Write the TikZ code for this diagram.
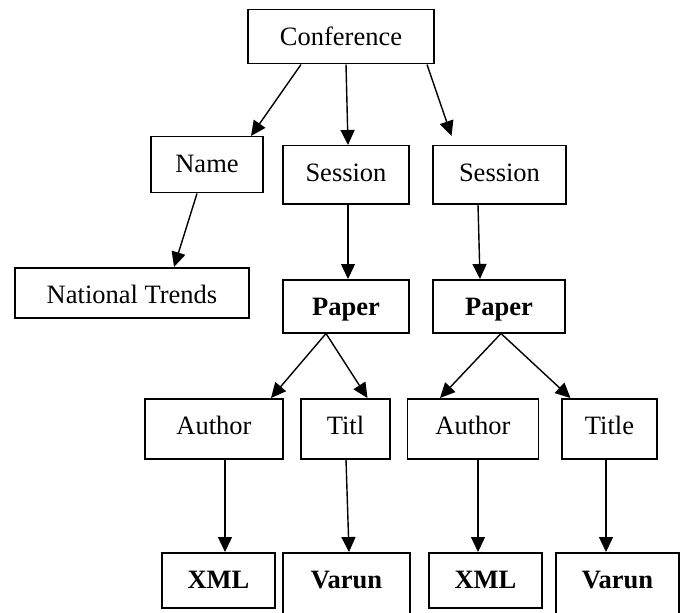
\documentclass[tikz,border=0pt]{standalone}
\usepackage{fontspec}
\setmainfont{Liberation Serif}
\usetikzlibrary{arrows.meta}
\tikzset{
    every node/.style={rectangle, draw, line width=1.5pt, anchor=north,
    	inner sep=0pt, text height=36pt, font=\fontsize{26.5}{30}\selectfont}
}
\tikzset{
    every edge/.append style={line width=1.4pt, -{Triangle[length=15pt,width=14pt]}}
}

\begin{document}
\begin{tikzpicture}[x=1pt,y=-1pt]
	\useasboundingbox (0,0) rectangle (684,612);
	\node (conf) [minimum width=186pt, text depth=18pt] at (341,9) {Conference};
	\node (name) [minimum width=112pt, text depth=20pt] at (207,136) {Name};
	\node (ses1) [minimum width=126pt, text depth=22pt] at (346,145) {Session};
	\node (ses2) [minimum width=133pt, text depth=22pt] at (499.5,145) {Session};
	\node (nt) [minimum width=234pt, text depth=14pt] at (132,267) {National Trends};
	\node (pap1) [minimum width=126pt, text depth=17pt] at (346,279) {\textbf{Paper}};
	\node (pap2) [minimum width=132pt, text depth=17pt] at (499,279) {\textbf{Paper}};
	\node (auth1) [minimum width=138pt, text depth=24pt] at (214,398) {Author};
	\node (titl1) [minimum width=89pt, text depth=24pt] at (345.5,398) {Titl};
	\node (auth2) [minimum width=131pt, text depth=24pt] at (473,398) {Author};
	\node (titl2) [minimum width=95pt, text depth=24pt] at (609.5,398) {Title};
	\node (xml1) [minimum width=113pt, text depth=19pt] at (218.5,552) {\textbf{XML}};
	\node (var1) [minimum width=127pt, text depth=70pt] at (346.5,552) {\textbf{Varun}};
	\node (xml2) [minimum width=113pt, text depth=19pt] at (485.5,552) {\textbf{XML}};
	\node (var2) [minimum width=123pt, text depth=70pt] at (617.5,552) {\textbf{Varun}};

	\draw ([xshift=-40pt]conf.south) edge ([xshift=44pt]name.north);
	\draw ([xshift=5pt]conf.south) edge ([xshift=2pt]ses1.north);
	\draw ([xshift=86pt]conf.south) edge ([xshift=-48pt,yshift=9pt]ses2.north);
	\draw ([xshift=-10pt]name.south) edge ([xshift=42pt]nt.north);
	\draw ([xshift=2pt]ses1.south) edge ([xshift=2pt]pap1.north);
	\draw ([xshift=-21.5pt]ses2.south) edge ([xshift=-19pt]pap2.north);
	\draw ([xshift=-20pt]pap1.south) edge ([xshift=57pt]auth1.north);
	\draw ([xshift=-20pt]pap1.south) edge ([xshift=22pt]titl1.north);
	\draw ([xshift=2pt]pap2.south) edge ([xshift=-33pt]auth2.north);
	\draw ([xshift=2pt]pap2.south) edge ([xshift=-39pt]titl2.north);
	\draw ([xshift=11pt]auth1.south) edge ([xshift=6.5pt]xml1.north);
	\draw ([xshift=0.5pt]titl1.south) edge ([xshift=2.5pt]var1.north);
	\draw ([xshift=5pt]auth2.south) edge ([xshift=-7.5pt]xml2.north);
	\draw ([xshift=-3.5pt]titl2.south) edge ([xshift=-11.5pt]var2.north);
\end{tikzpicture}
\end{document}
